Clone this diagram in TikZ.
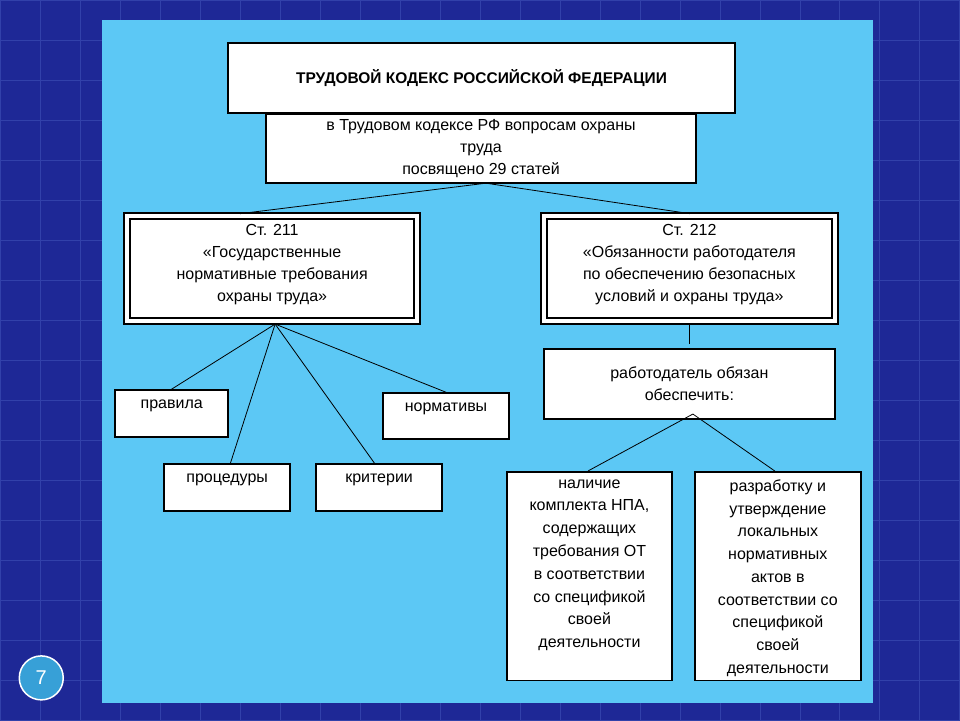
\documentclass[tikz,border=0pt]{standalone}
\usepackage{fontspec}
\setmainfont{Liberation Sans}
\definecolor{bgdark}{RGB}{30,40,150}
\definecolor{gridc}{RGB}{50,65,170}
\definecolor{panel}{RGB}{92,200,245}
\definecolor{circ}{RGB}{55,160,215}
\begin{document}
\begin{tikzpicture}[x=1pt,y=-1pt,
  box/.style={draw=black,fill=white,line width=1.6pt,align=center,font=\fontsize{16}{20}\selectfont,inner sep=2pt},
  ln/.style={draw=black,line width=0.8pt}]
\fill[bgdark] (0,0) rectangle (960,720);
\foreach \i in {0,40,...,960} \draw[gridc,line width=0.6pt] (\i,0)--(\i,720);
\foreach \i in {0,40,...,720} \draw[gridc,line width=0.6pt] (0,\i)--(960,\i);
\useasboundingbox (0,0) rectangle (960,720);
\fill[panel] (102,20) rectangle (873,703);
% boxes
\node[box,line width=2pt,minimum width=507pt,minimum height=70pt,font=\bfseries\fontsize{15.5}{18}\selectfont] (t) at (481.5,78) {ТРУДОВОЙ КОДЕКС РОССИЙСКОЙ ФЕДЕРАЦИИ};
\node[box,minimum width=430pt,minimum height=69pt,anchor=north] (s) at (481,113) {};
\node[align=center,font=\fontsize{16}{22}\selectfont,anchor=north] (st) at (481,116) {в Трудовом кодексе РФ вопросам охраны\\труда\\посвящено 29 статей};
\node[box,minimum width=296pt,minimum height=111pt] (a) at (272,268.5) {};
\draw[line width=1.6pt] (130,219) rectangle (414,318);
\node[align=center,font=\fontsize{16}{22}\selectfont,anchor=north] (at) at (272,221) {Ст. 211\\«Государственные\\нормативные требования\\охраны труда»};
\node[box,minimum width=297pt,minimum height=111pt] (b) at (689.5,268.5) {};
\draw[line width=1.6pt] (547,219) rectangle (832,318);
\node[align=center,font=\fontsize{16}{22}\selectfont,anchor=north] (bt) at (689.5,221) {Ст. 212\\«Обязанности работодателя\\по обеспечению безопасных\\условий и охраны труда»};
\node[box,minimum width=113pt,minimum height=47pt] (p1) at (171.5,413.5) {};
\node[font=\fontsize{16}{20}\selectfont] (p1t) at (171.5,406) {правила};
\node[box,minimum width=126pt,minimum height=46pt] (p2) at (446,416) {};
\node[font=\fontsize{16}{20}\selectfont] (p2t) at (446,409) {нормативы};
\node[box,minimum width=126pt,minimum height=47pt] (p3) at (227,487.5) {};
\node[font=\fontsize{16}{20}\selectfont] (p3t) at (227,480) {процедуры};
\node[box,minimum width=126pt,minimum height=47pt] (p4) at (379,487.5) {};
\node[font=\fontsize{16}{20}\selectfont] (p4t) at (379,480) {критерии};
\node[box,minimum width=291pt,minimum height=70pt,font=\fontsize{16}{22}\selectfont] (r) at (689.5,384) {работодатель обязан\\обеспечить:};
\node[box,minimum width=165pt,minimum height=209pt,anchor=north] (n1) at (589.5,471) {};
\node[align=center,font=\fontsize{16}{22.8}\selectfont,anchor=north] (n1t) at (589.5,476) {наличие\\комплекта НПА,\\содержащих\\требования ОТ\\в соответствии\\со спецификой\\своей\\деятельности};
\node[box,minimum width=166pt,minimum height=209pt,anchor=north] (n2) at (778,471) {};
\node[align=center,font=\fontsize{16}{22.8}\selectfont,anchor=north] (n2t) at (778,476) {разработку и\\утверждение\\локальных\\нормативных\\актов в\\соответствии со\\спецификой\\своей\\деятельности};
% connectors
\coordinate (sb) at (486,183);
\draw[ln] (sb)--(240,213.5); \draw[ln] (sb)--(690,213.5);
\coordinate (ab) at (275,324);
\draw[ln] (ab)--(170,390); \draw[ln] (ab)--(230,464); \draw[ln] (ab)--(375,464); \draw[ln] (ab)--(448,393);
\draw[ln] (690,324)--(690,344);
\coordinate (rb) at (693,414);
\draw[ln] (rb)--(588,471); \draw[ln] (rb)--(775,471);
\node[circle,draw=white,line width=1.5pt,fill=circ,minimum size=44pt,text=white,font=\fontsize{20}{24}\selectfont] (c) at (41,678) {7};
\end{tikzpicture}
\end{document}
